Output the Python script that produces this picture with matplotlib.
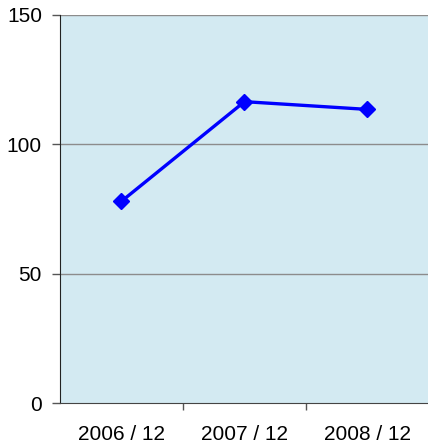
import matplotlib
matplotlib.use("Agg")
import matplotlib.pyplot as plt
from matplotlib.ticker import FixedLocator, NullFormatter

categories = ["2006 / 12", "2007 / 12", "2008 / 12"]
values = [78, 116.5, 113.5]
yticks = [0, 50, 100, 150]

plt.rcParams['font.family'] = ['Liberation Sans', 'DejaVu Sans']

fig = plt.figure(figsize=(4.28, 4.48), dpi=100)
W, H = 428, 448
ax = fig.add_axes([60 / W, (H - 403) / H, (429 - 60) / W, (403 - 15) / H])
ax.set_facecolor('#D3EAF2')

x = list(range(len(categories)))
ax.plot(x, values, color='#0000FF', linewidth=2.4, marker='D', markersize=8.5,
        markerfacecolor='#0000FF', markeredgecolor='#0000FF', zorder=3, clip_on=False)

ax.set_xlim(-0.5, len(categories) - 0.5)
ax.set_ylim(0, 150)
ax.set_yticks(yticks)
ax.set_yticklabels([str(v) for v in yticks], fontsize=15)
for v in yticks[1:]:
    ax.axhline(v, color='#8C8C8C', linewidth=1, zorder=1)

# category labels centered, ticks at boundaries
ax.xaxis.set_major_locator(FixedLocator([i + 0.5 for i in range(len(categories) - 1)]))
ax.xaxis.set_major_formatter(NullFormatter())
ax.set_xticks(x, minor=True)
ax.set_xticklabels(categories, minor=True, fontsize=15)
ax.tick_params(axis='x', which='minor', length=0, pad=16)
ax.tick_params(axis='x', which='major', length=5, width=1, color='#555555', direction='out')
ax.tick_params(axis='y', length=6, width=1, color='#555555', direction='out', pad=7)

ax.spines['top'].set_visible(False)
ax.spines['right'].set_visible(False)
ax.spines['left'].set_color('#222222')
ax.spines['bottom'].set_color('#444444')

fig.savefig('out.png', dpi=100)
